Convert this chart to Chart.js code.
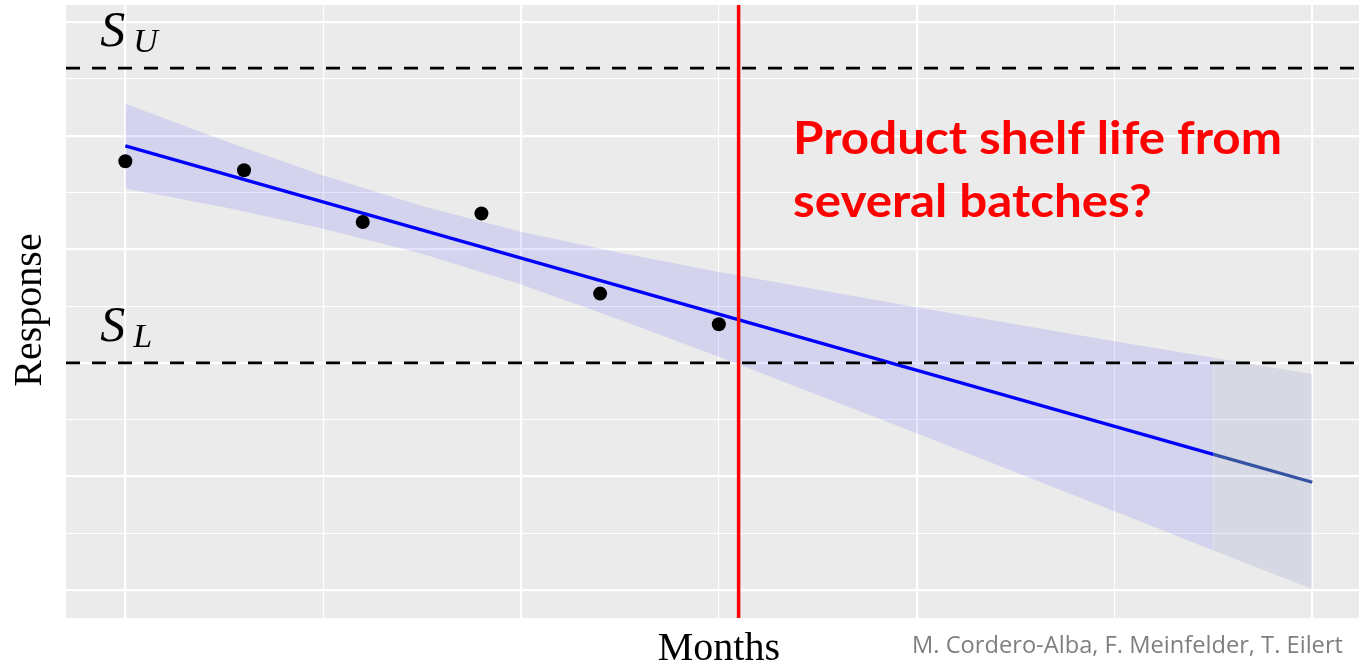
<!DOCTYPE html>
<html>
<head>
<meta charset="utf-8">
<script src="https://cdn.jsdelivr.net/npm/chart.js@4.4.1/dist/chart.umd.min.js"></script>
<style>
  html, body { margin: 0; padding: 0; background: #fff; overflow: hidden; }
  canvas { display: block; }
</style>
</head>
<body>
<canvas id="shelfChart" width="1359" height="665"></canvas>
<script>
// batch measurements
const months = [0, 3, 6, 9, 12, 15];
const response = [7.55, 7.39, 6.48, 6.63, 5.22, 4.68];

// fitted line and confidence band
const fitMonths = [0, 27.5, 30];
const fitResponse = [7.82, 2.39, 1.90];
const bandMonths = [0, 2.5, 5, 7.5, 10, 12.5, 15, 20, 25, 27.5, 30];
const bandUpper = [8.56, 7.91, 7.30, 6.76, 6.31, 5.94, 5.60, 4.98, 4.38, 4.09, 3.80];
const bandLower = [7.07, 6.74, 6.36, 5.92, 5.38, 4.76, 4.11, 2.76, 1.39, 0.70, 0.02];

// spec limits, shelf life, greyed tail of the band
const specUpper = 9.19;
const specLower = 4.0;
const shelfLife = 15.5;
const greyFrom = 27.5;

const title = ['Product shelf life from', 'several batches?'];
const credit = 'M. Cordero-Alba, F. Meinfelder, T. Eilert';

const pts = (xs, ys) => xs.map((x, i) => ({ x, y: ys[i] }));
const inGrey = c => c.p0.parsed.x >= greyFrom;

function fitText(ctx, text, left, base, width) {
  const w = ctx.measureText(text).width;
  ctx.save();
  ctx.translate(left, base);
  ctx.scale(width / w, 1);
  ctx.fillText(text, 0, 0);
  ctx.restore();
}

const overlay = {
  id: 'overlay',
  beforeDraw(chart) {
    const { ctx, chartArea: a } = chart;
    ctx.save();
    ctx.fillStyle = '#fff';
    ctx.fillRect(0, 0, chart.width, chart.height);
    ctx.fillStyle = '#EBEBEB';
    ctx.fillRect(a.left, a.top, a.right - a.left, a.bottom - a.top);
    ctx.restore();
  },
  afterDatasetsDraw(chart) {
    const { ctx, chartArea: a, scales: { x, y } } = chart;
    ctx.save();
    ctx.beginPath();
    ctx.rect(a.left, a.top, a.right - a.left, a.bottom - a.top);
    ctx.clip();
    ctx.strokeStyle = '#000';
    ctx.lineWidth = 2.8;
    ctx.setLineDash([14, 12]);
    for (const v of [specUpper, specLower]) {
      const py = y.getPixelForValue(v);
      ctx.beginPath();
      ctx.moveTo(a.left, py);
      ctx.lineTo(a.right, py);
      ctx.stroke();
    }
    ctx.setLineDash([]);
    ctx.strokeStyle = '#FF0000';
    ctx.lineWidth = 3.5;
    const px = x.getPixelForValue(shelfLife);
    ctx.beginPath();
    ctx.moveTo(px, a.top);
    ctx.lineTo(px, a.bottom);
    ctx.stroke();
    ctx.restore();
  },
  afterDraw(chart) {
    const { ctx, scales: { x, y } } = chart;
    const x0 = x.getPixelForValue(0);
    ctx.save();
    ctx.fillStyle = '#000';
    ctx.textAlign = 'left';
    ctx.textBaseline = 'alphabetic';
    // S_U and S_L labels
    for (const [v, sub] of [[specUpper, 'U'], [specLower, 'L']]) {
      const py = y.getPixelForValue(v);
      ctx.font = 'italic 50px "Liberation Serif"';
      ctx.fillText('S', x0 - 25, py - 22);
      ctx.font = 'italic 34px "Liberation Serif"';
      ctx.fillText(sub, x0 + 8, py - 16);
    }

    // axis titles
    ctx.font = '40px "Liberation Serif"';
    ctx.textAlign = 'center';
    ctx.fillText('Months', x.getPixelForValue(15), 660);
    ctx.save();
    ctx.translate(41, 310);
    ctx.rotate(-Math.PI / 2);
    ctx.fillText('Response', 0, 0);
    ctx.restore();

    // red question
    ctx.textAlign = 'left';
    ctx.fillStyle = '#FF0000';
    ctx.font = 'bold 46px Lato';
    const w1 = ctx.measureText(title[0]).width;
    const sx = 489 / w1;
    fitText(ctx, title[0], 793, 154, w1 * sx);
    fitText(ctx, title[1], 793, 217, ctx.measureText(title[1]).width * sx);

    // credit line
    ctx.fillStyle = '#7F7F7F';
    ctx.font = '23px "Open Sans"';
    fitText(ctx, credit, 912, 653, 431);
    ctx.restore();
  }
};

const grid = major => ({
  color: '#FFFFFF',
  lineWidth: c => (c.tick && c.tick.value % major === 0 ? 2.2 : 1.1),
  drawTicks: false
});

const chart = new Chart(document.getElementById('shelfChart'), {
  type: 'scatter',
  data: {
    datasets: [
      {
        data: pts(months, response),
        backgroundColor: '#000',
        borderColor: '#000',
        pointRadius: 7,
        pointBorderWidth: 0,
        order: 0
      },
      {
        data: pts(fitMonths, fitResponse),
        showLine: true,
        borderColor: '#0000FF',
        borderWidth: 3.2,
        pointRadius: 0,
        segment: { borderColor: c => (inGrey(c) ? '#3553A3' : undefined) },
        order: 1
      },
      {
        data: pts(bandMonths, bandUpper),
        showLine: true,
        borderColor: 'transparent',
        pointRadius: 0,
        fill: '+1',
        backgroundColor: 'rgba(0,0,255,0.1)',
        segment: { backgroundColor: c => (inGrey(c) ? 'rgba(95,108,182,0.15)' : undefined) },
        order: 2
      },
      {
        data: pts(bandMonths, bandLower),
        showLine: true,
        borderColor: 'transparent',
        pointRadius: 0,
        fill: false,
        order: 3
      }
    ]
  },
  options: {
    responsive: false,
    animation: false,
    layout: { autoPadding: false, padding: { left: 66, top: 5, right: 0, bottom: 47 } },
    plugins: { legend: { display: false }, tooltip: { enabled: false } },
    scales: {
      x: {
        type: 'linear',
        min: -1.5,
        max: 31.18,
        ticks: { display: false, stepSize: 5, includeBounds: false },
        grid: grid(10),
        border: { display: false }
      },
      y: {
        min: -0.49,
        max: 10.3,
        ticks: { display: false, stepSize: 1, includeBounds: false },
        grid: grid(2),
        border: { display: false }
      }
    }
  },
  plugins: [overlay]
});
</script>
</body>
</html>
